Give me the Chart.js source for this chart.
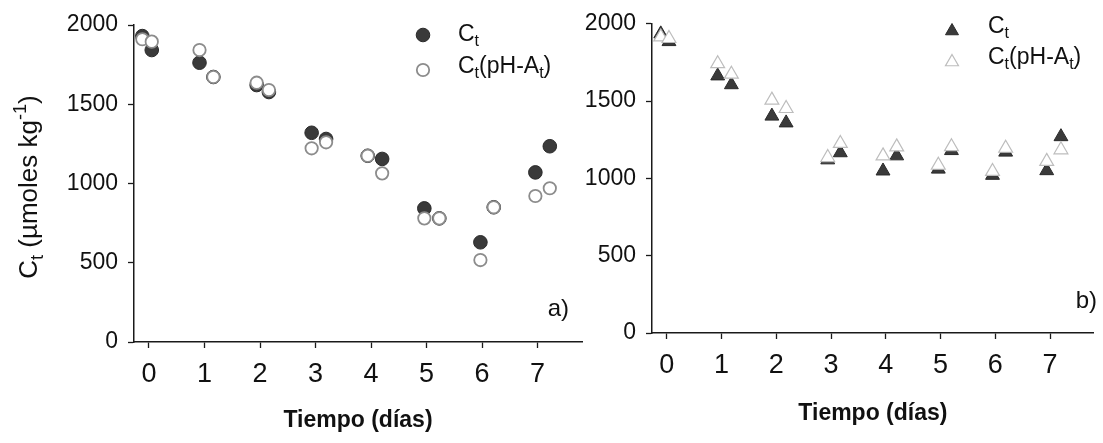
<!DOCTYPE html>
<html>
<head>
<meta charset="utf-8">
<script src="https://cdn.jsdelivr.net/npm/chart.js@4.4.0/dist/chart.umd.min.js"></script>
<style>
  body { margin: 0; background: #fff; }
  #wrap { position: relative; width: 1103px; height: 443px; }
  canvas { position: absolute; top: 0; }
</style>
</head>
<body>
<div id="wrap">
  <canvas id="chart-a" width="590" height="443" style="left:0"></canvas>
  <canvas id="chart-b" width="543" height="443" style="left:560px"></canvas>
</div>
<script>
// tick labels
const xTicks = [0, 1, 2, 3, 4, 5, 6, 7];
const yTicks = [0, 500, 1000, 1500, 2000];

// panel a) circles — two samples per day
const timesA = [-0.12, 0.05, 0.91, 1.16, 1.94, 2.16, 2.93, 3.19, 3.94, 4.2, 4.96, 5.23, 5.97, 6.21, 6.96, 7.22];
const ctA    = [1930, 1842, 1762, 1672, 1621, 1577, 1320, 1281, 1175, 1155, 843, 780, 629, 850, 1070, 1235];
const phA    = [1910, 1895, 1842, 1672, 1636, 1590, 1222, 1260, 1175, 1064, 780, 780, 517, 850, 921, 970];

// panel b) triangles
const timesB = [-0.11, 0.04, 0.93, 1.18, 1.92, 2.18, 2.94, 3.17, 3.95, 4.2, 4.96, 5.2, 5.95, 6.19, 6.94, 7.2];
const ctB    = [1935, 1885, 1663, 1606, 1403, 1359, 1120, 1166, 1048, 1146, 1060, 1180, 1020, 1170, 1050, 1270];
const phB    = [1915, 1905, 1742, 1674, 1506, 1452, 1135, 1226, 1146, 1204, 1085, 1205, 1045, 1195, 1110, 1185];

const FONT = "'Liberation Sans', Arial, sans-serif";
const AXIS = '#1a1a1a';
const DARK = '#3a3a3a';

const CT_LABEL = [['C', 0], ['t', 1]];
const CTPH_LABEL = [['C', 0], ['t', 1], ['(pH-A', 0], ['t', 1], [')', 0]];
const YTITLE = [['C', 0], ['t', 1], [' (\u00b5moles kg', 0], ['-1', 2], [')', 0]];

function points(xs, ys) {
  return xs.map((x, i) => ({ x, y: ys[i] }));
}

// text with sub (1) / superscript (2) runs
function richText(ctx, parts, x, y, size, measureOnly) {
  let cx = x;
  for (const [t, m] of parts) {
    const s = m ? size * 0.7 : size;
    ctx.font = `${s}px ${FONT}`;
    const dy = m === 1 ? size * 0.3 : m === 2 ? -size * 0.36 : 0;
    if (!measureOnly) ctx.fillText(t, cx, y + dy);
    cx += ctx.measureText(t).width;
  }
  return cx - x;
}

function drawMarker(ctx, style, x, y, r, fill, stroke, lw) {
  ctx.beginPath();
  if (style === 'circle') {
    ctx.arc(x, y, r, 0, Math.PI * 2);
  } else {
    ctx.moveTo(x, y - r);
    ctx.lineTo(x + r * 0.866, y + r * 0.5);
    ctx.lineTo(x - r * 0.866, y + r * 0.5);
    ctx.closePath();
  }
  ctx.fillStyle = fill;
  ctx.fill();
  ctx.lineWidth = lw;
  ctx.strokeStyle = stroke;
  ctx.stroke();
}

function decorPlugin(cfg) {
  return {
    id: 'decor',
    afterDraw(chart) {
      const ctx = chart.ctx;
      ctx.save();
      ctx.textBaseline = 'middle';
      ctx.textAlign = 'left';
      cfg.legend.forEach(item => {
        drawMarker(ctx, item.style, item.mx, item.my, item.r, item.fill, item.stroke, item.lw);
        ctx.fillStyle = '#111';
        richText(ctx, item.label, item.tx, item.ty, 23);
      });
      if (cfg.yTitle) {
        ctx.save();
        ctx.translate(cfg.yTitle.x, cfg.yTitle.y);
        ctx.rotate(-Math.PI / 2);
        const w = richText(ctx, YTITLE, 0, 0, 26, true);
        richText(ctx, YTITLE, -w / 2, 0, 26);
        ctx.restore();
      }
      ctx.textAlign = 'right';
      ctx.fillStyle = '#111';
      ctx.font = `24px ${FONT}`;
      ctx.fillText(cfg.tag.text, cfg.tag.x, cfg.tag.y);
      ctx.restore();
    }
  };
}

function scales(o) {
  return {
    x: {
      type: 'linear', min: -0.27, max: 7.8,
      afterBuildTicks: s => { s.ticks = xTicks.map(v => ({ value: v })); },
      afterFit: s => { s.height = o.xHeight; },
      border: { display: true, color: AXIS, width: 1.5 },
      grid: { drawOnChartArea: false, drawTicks: true, tickLength: 6, tickColor: AXIS, tickWidth: 1.3 },
      ticks: { color: '#111', font: { family: FONT, size: 27 }, padding: o.xPad, maxRotation: 0, autoSkip: false,
               callback: v => String(v) },
      title: { display: true, text: 'Tiempo (días)', color: '#111',
               font: { family: FONT, size: 23, weight: 'bold' }, padding: { top: 0, bottom: o.titlePad } }
    },
    y: {
      min: 0, max: 2000,
      afterBuildTicks: s => { s.ticks = yTicks.map(v => ({ value: v })); },
      afterFit: s => { s.width = o.yWidth; },
      border: { display: true, color: AXIS, width: 1.5 },
      grid: { drawOnChartArea: false, drawTicks: true, tickLength: 6, tickColor: AXIS, tickWidth: 1.3 },
      ticks: { color: '#111', font: { family: FONT, size: 23 }, padding: 10, callback: v => String(v) }
    }
  };
}

function baseOptions(o) {
  return {
    responsive: false,
    animation: false,
    layout: { padding: { top: o.top, right: o.right, left: 0, bottom: 0 } },
    plugins: { legend: { display: false }, tooltip: { enabled: false } },
    scales: scales(o)
  };
}

function renderPanelA() {
  new Chart(document.getElementById('chart-a'), {
    type: 'scatter',
    data: {
      datasets: [{
        label: 'Ct(pH-At)',
        data: points(timesA, phA),
        pointStyle: 'circle', pointRadius: 6.2,
        backgroundColor: '#fff', borderColor: '#8c8c8c', borderWidth: 1.8,
      }, {
        label: 'Ct',
        data: points(timesA, ctA),
        pointStyle: 'circle', pointRadius: 6.8,
        backgroundColor: DARK, borderColor: '#2a2a2a', borderWidth: 1,
      }],
    },
    options: baseOptions({ top: 25, right: 5, xHeight: 101, yWidth: 134, xPad: 10, titlePad: 9 }),
    plugins: [decorPlugin({
      legend: [
        { style: 'circle', mx: 423, my: 35, r: 6.8, fill: DARK, stroke: '#2a2a2a', lw: 1, label: CT_LABEL, tx: 458, ty: 35 },
        { style: 'circle', mx: 423, my: 70, r: 6.2, fill: '#fff', stroke: '#8c8c8c', lw: 1.8, label: CTPH_LABEL, tx: 458, ty: 67 },
      ],
      yTitle: { x: 30, y: 187 },
      tag: { text: 'a)', x: 569, y: 309 },
    })],
  });
}

function renderPanelB() {
  new Chart(document.getElementById('chart-b'), {
    type: 'scatter',
    data: {
      datasets: [{
        label: 'Ct(pH-At)',
        data: points(timesB, phB),
        pointStyle: 'triangle', pointRadius: 8,
        backgroundColor: '#fff', borderColor: '#bdbdbd', borderWidth: 1.2,
      }, {
        label: 'Ct',
        data: points(timesB, ctB),
        pointStyle: 'triangle', pointRadius: 8,
        backgroundColor: DARK, borderColor: '#2a2a2a', borderWidth: 1,
      }],
    },
    options: baseOptions({ top: 20, right: 7, xHeight: 110, yWidth: 92, xPad: 10, titlePad: 16 }),
    plugins: [decorPlugin({
      legend: [
        { style: 'triangle', mx: 392, my: 31, r: 7.5, fill: DARK, stroke: '#2a2a2a', lw: 1, label: CT_LABEL, tx: 428, ty: 27 },
        { style: 'triangle', mx: 392, my: 62, r: 7.5, fill: '#fff', stroke: '#bdbdbd', lw: 1.2, label: CTPH_LABEL, tx: 428, ty: 58 },
      ],
      tag: { text: 'b)', x: 537, y: 301 },
    })],
  });
}

document.addEventListener('DOMContentLoaded', () => {
  renderPanelA();
  renderPanelB();
});
</script>
</body>
</html>
